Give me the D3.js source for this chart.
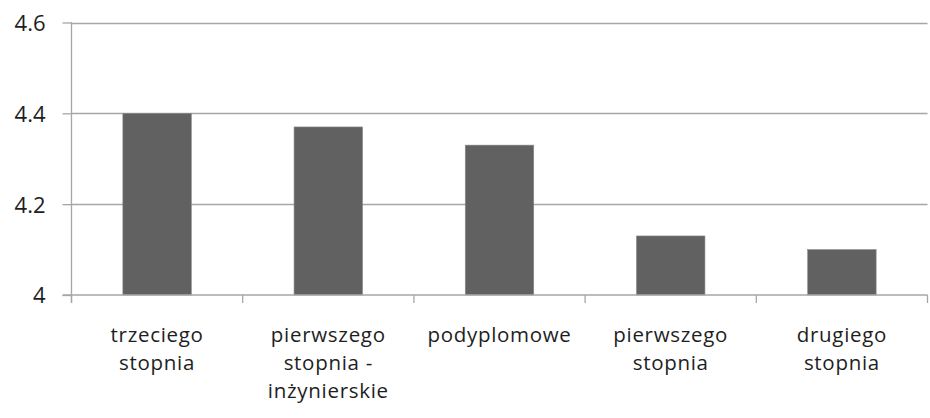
<!DOCTYPE html>
<html><head><meta charset="utf-8">
<script src="https://cdn.jsdelivr.net/npm/d3@7"></script>
<style>body{margin:0;background:#fff}svg{display:block}text{font-family:"Open Sans",sans-serif;fill:#1e1e1e}</style>
</head><body><svg id="c" width="930" height="418"></svg>
<script>
const categories = [["trzeciego","stopnia"],["pierwszego","stopnia -","inżynierskie"],["podyplomowe"],["pierwszego","stopnia"],["drugiego","stopnia"]];
const values = [4.4, 4.37, 4.33, 4.13, 4.1];
const yTicks = [4, 4.2, 4.4, 4.6];
const yTickLabels = ["4", "4.2", "4.4", "4.6"];

const svg = d3.select("#c");
const mLeft = 71.5, mRight = 927.5, mTop = 22.5, mBottom = 295;
const x = d3.scaleBand().domain(d3.range(categories.length)).range([mLeft, mRight]).paddingInner(0.6).paddingOuter(0.3);
const xb = d3.scaleBand().domain(d3.range(categories.length)).range([mLeft, mRight]);
const y = d3.scaleLinear().domain([4, 4.6]).range([mBottom, mTop]);

// gridlines
svg.append("g").selectAll("line").data(yTicks.slice(1)).join("line")
  .attr("x1", mLeft).attr("x2", mRight).attr("y1", d => Math.round(y(d)) + 0.5).attr("y2", d => Math.round(y(d)) + 0.5)
  .attr("stroke", "#a6a6a6").attr("stroke-width", 1.3);

// bars
svg.append("g").selectAll("rect").data(values).join("rect")
  .attr("x", (d, i) => x(i)).attr("width", x.bandwidth())
  .attr("y", d => y(d)).attr("height", d => y(4) - y(d))
  .attr("fill", "#616161").attr("stroke", "#8a8a8a").attr("stroke-width", 0.6);

// y axis
const ya = svg.append("g").attr("transform", `translate(${mLeft},0)`)
  .call(d3.axisLeft(y).tickValues(yTicks).tickFormat((d, i) => yTickLabels[i]).tickSize(9).tickPadding(17));
ya.select(".domain").attr("stroke", "#a6a6a6").attr("stroke-width", 1.3).attr("d", `M0,${mTop - 0.5}V${mBottom + 8}`);
ya.selectAll(".tick line").attr("stroke", "#a6a6a6").attr("stroke-width", 1.3);
ya.selectAll(".tick text").attr("font-size", 22).attr("font-family", "Open Sans").attr("fill", "#1e1e1e").attr("dy", "0.36em");

// x axis line + ticks
svg.append("line").attr("x1", mLeft - 9).attr("x2", mRight).attr("y1", mBottom).attr("y2", mBottom)
  .attr("stroke", "#a6a6a6").attr("stroke-width", 1.3);
const bounds = xb.domain().map(i => xb(i)).concat([mRight]);
svg.append("g").selectAll("line").data(bounds).join("line")
  .attr("x1", d => d).attr("x2", d => d).attr("y1", mBottom).attr("y2", mBottom + 8)
  .attr("stroke", "#a6a6a6").attr("stroke-width", 1.3);

// x labels (one text per line)
const lines = [];
categories.forEach((c, i) => c.forEach((t, j) => lines.push({ i, j, t })));
svg.append("g").selectAll("text").data(lines).join("text")
  .attr("text-anchor", "middle").attr("font-size", 20.5).attr("letter-spacing", 0.7)
  .attr("x", d => x(d.i) + x.bandwidth() / 2).attr("y", d => 342 + d.j * 28)
  .text(d => d.t);
</script></body></html>
